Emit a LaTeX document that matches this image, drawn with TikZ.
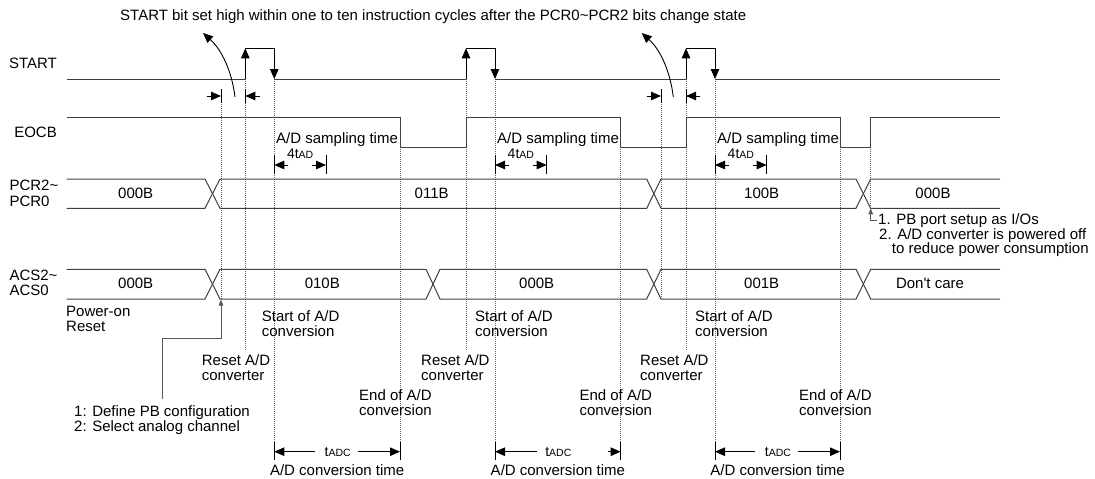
\documentclass[tikz,border=0pt]{standalone}
\usepackage{fontspec}
\setmainfont{Liberation Sans}
\usetikzlibrary{arrows.meta}
\newcommand{\smallsub}[1]{{\fontsize{10.5}{10.5}\selectfont #1}}
\begin{document}
\begin{tikzpicture}[x=1pt,y=-1pt,
  sig/.style={draw=black!75,line width=1pt},
  dot/.style={draw=black!60,line width=0.6pt,dash pattern=on 1pt off 1pt},
  arr/.style={draw=black,line width=0.9pt,-{Triangle[length=10pt,width=8.5pt]}},
  sarr/.style={draw=black!65,line width=0.9pt,-{Triangle[length=6pt,width=4.5pt]}},
  tick/.style={draw=black,line width=0.9pt},
  lbl/.style={inner sep=0pt,font=\fontsize{15}{15}\selectfont},
  sublbl/.style={inner sep=0pt,font=\fontsize{14}{14}\selectfont}]
\useasboundingbox (0,0) rectangle (1095,479);

% ---------- title ----------
\node[lbl,anchor=base west] (title) at (120,20) {START bit set high within one to ten instruction cycles after the PCR0\textasciitilde PCR2 bits change state};

% ---------- signal names ----------
\node[lbl,anchor=base east] (nstart) at (57,68.3) {START};
\node[lbl,anchor=base east] (neocb) at (57,137.5) {EOCB};
\node[lbl,anchor=base west] (npcra) at (9.3,190.7) {PCR2\textasciitilde};
\node[lbl,anchor=base west] (npcrb) at (9.3,206.5) {PCR0};
\node[lbl,anchor=base west] (nacsa) at (9.3,280.3) {ACS2\textasciitilde};
\node[lbl,anchor=base west] (nacsb) at (9.3,295.5) {ACS0};

% ---------- dotted guides ----------
\draw[dot] (221,96) -- (221,299);
\draw[dot] (245.3,79) -- (245.3,350);
\draw[dot] (274.3,79) -- (274.3,442);
\draw[dot] (400,147) -- (400,442);
\draw[dot] (466,79) -- (466,350);
\draw[dot] (495,79) -- (495,442);
\draw[dot] (620.7,147) -- (620.7,442);
\draw[dot] (661,96) -- (661,299);
\draw[dot] (686,79) -- (686,350);
\draw[dot] (715,79) -- (715,442);
\draw[dot] (840,147) -- (840,442);
\draw[dot] (870.7,147) -- (870.7,208.3);

% ---------- START ----------
\draw[sig] (66.7,79) -- (245.3,79);
\draw[sig] (274.3,79) -- (466,79);
\draw[sig] (495,79) -- (686,79);
\draw[sig] (715,79) -- (1000,79);
\draw[arr] (245.3,79) -- (245.3,48.3);
\draw[arr] (245.3,48.3) -- (274.3,48.3) -- (274.3,79);
\draw[arr] (466,79) -- (466,48.3);
\draw[arr] (466,48.3) -- (495,48.3) -- (495,79);
\draw[arr] (686,79) -- (686,48.3);
\draw[arr] (686,48.3) -- (715,48.3) -- (715,79);

% timing window marks
\draw[arr] (206.7,96) -- (221,96);
\draw[arr] (260,96) -- (245.3,96);
\draw[tick] (221,89) -- (221,103);
\draw[tick] (245.3,89) -- (245.3,103);
\draw[arr] (646.7,96) -- (661,96);
\draw[arr] (700.3,96) -- (686,96);
\draw[tick] (661,89) -- (661,103);
\draw[tick] (686,89) -- (686,103);

% curved pointers to the title
\coordinate (c1s) at (235,97);
\coordinate (c1e) at (203,33);
\coordinate (c2s) at (673.3,97);
\coordinate (c2e) at (641.7,33);
\draw[arr] (c1s) .. controls (232,72) and (222,50) .. (c1e);
\draw[arr] (c2s) .. controls (670.3,72) and (660.7,50) .. (c2e);

% ---------- EOCB ----------
\draw[sig] (66.7,117) -- (400,117) -- (400,147) -- (466,147) -- (466,117)
  -- (620.7,117) -- (620.7,147) -- (686,147) -- (686,117)
  -- (840,117) -- (840,147) -- (870.7,147) -- (870.7,117) -- (1000,117);

\node[lbl,anchor=base west] (st1) at (276,143.3) {A/D sampling time};
\node[lbl,anchor=base west] (st2) at (497,143.3) {A/D sampling time};
\node[lbl,anchor=base west] (st3) at (717,143.3) {A/D sampling time};

% 4tAD markers
\foreach \a/\b/\n in {274.3/326/1,495/546.7/2,715/766.7/3}{
  \draw[tick] (\a,155) -- (\a,174);
  \draw[tick] (\b,155) -- (\b,174);
  \draw[arr] (\a+14,165) -- (\a,165);
  \draw[arr] (\b-14,165) -- (\b,165);
  \node[sublbl,anchor=base] (fa\n) at ({(\a+\b)/2},158) {4t\smallsub{AD}};
}

% ---------- PCR bus ----------
\draw[sig] (66.7,179) -- (205,179) -- (220,208.3) -- (646.7,208.3) -- (661,179) -- (856,179) -- (870.7,208.3) -- (1000,208.3);
\draw[sig] (66.7,208.3) -- (205,208.3) -- (220,179) -- (646.7,179) -- (661,208.3) -- (856,208.3) -- (870.7,179) -- (1000,179);
\node[lbl,anchor=base] (p1) at (135.7,198.8) {000B};
\node[lbl,anchor=base] (p2) at (431.7,198.8) {011B};
\node[lbl,anchor=base] (p3) at (761.7,198.8) {100B};
\node[lbl,anchor=base] (p4) at (933,198.8) {000B};

% ---------- ACS bus ----------
\draw[sig] (66.7,269.3) -- (205,269.3) -- (220,299) -- (426,299) -- (440,269.3) -- (646.7,269.3) -- (661,299) -- (856,299) -- (870.7,269.3) -- (1000,269.3);
\draw[sig] (66.7,299) -- (205,299) -- (220,269.3) -- (426,269.3) -- (440,299) -- (646.7,299) -- (661,269.3) -- (856,269.3) -- (870.7,299) -- (1000,299);
\node[lbl,anchor=base] (a1) at (135.7,288.8) {000B};
\node[lbl,anchor=base] (a2) at (322.3,288.8) {010B};
\node[lbl,anchor=base] (a3) at (536.7,288.8) {000B};
\node[lbl,anchor=base] (a4) at (761.7,288.8) {001B};
\node[lbl,anchor=base] (a5) at (930,288.8) {Don\textquotesingle t care};

% ---------- right note ----------
\node[lbl,anchor=base west] (r1) at (878,224) {1. PB port setup as I/Os};
\node[lbl,anchor=base west] (r2) at (879,239.5) {2. A/D converter is powered off};
\node[lbl,anchor=base west] (r3) at (891.7,253) {to reduce power consumption};
\coordinate (rn) at (870.7,208.3);
\draw[sarr] (r1.base west) ++(-1,-4) -| (rn);

% ---------- bottom labels ----------
\node[lbl,anchor=base west] (po1) at (66,316.7) {Power-on};
\node[lbl,anchor=base west] (po2) at (66,331.5) {Reset};

\foreach \x/\n in {261.7/1,475/2,695/3}{
  \node[lbl,anchor=base west] (sa\n) at (\x,321.7) {Start of A/D};
  \node[lbl,anchor=base west] (sb\n) at (\x,336.5) {conversion};
}
\foreach \x/\n in {201.7/1,421/2,640/3}{
  \node[lbl,anchor=base west] (ra\n) at (\x,365) {Reset A/D};
  \node[lbl,anchor=base west] (rb\n) at (\x,380) {converter};
}
\foreach \x/\n in {359/1,579.3/2,799/3}{
  \node[lbl,anchor=base west] (ea\n) at (\x,400) {End of A/D};
  \node[lbl,anchor=base west] (eb\n) at (\x,415) {conversion};
}

\node[lbl,anchor=base west] (d1) at (74,416) {1: Define PB configuration};
\node[lbl,anchor=base west] (d2) at (74,431.7) {2: Select analog channel};
\coordinate (dstart) at (162.7,399);
\coordinate (dend) at (221,299.5);
\draw[sarr] (dstart) -- (162.7,338.3) -| (dend);

% ---------- tADC ----------
\foreach \a/\b/\n in {274.3/400/1,495/620.7/2,715/840/3}{
  \draw[tick] (\a,441.7) -- (\a,460);
  \draw[tick] (\b,441.7) -- (\b,460);
  \node[sublbl,anchor=base] (ta\n) at ({(\a+\b)/2+0.5},456) {t\smallsub{ADC}};
  \node[lbl,anchor=base] (tb\n) at ({(\a+\b)/2},475) {A/D conversion time};
}
\draw[arr] (315,451.7) -- (274.3,451.7);
\draw[arr] (358,451.7) -- (400,451.7);
\draw[arr] (536.7,451.7) -- (495,451.7);
\draw[arr] (608,451.7) -- (620.7,451.7);
\draw[arr] (755,451.7) -- (715,451.7);
\draw[arr] (798.3,451.7) -- (840,451.7);
\end{tikzpicture}
\end{document}
